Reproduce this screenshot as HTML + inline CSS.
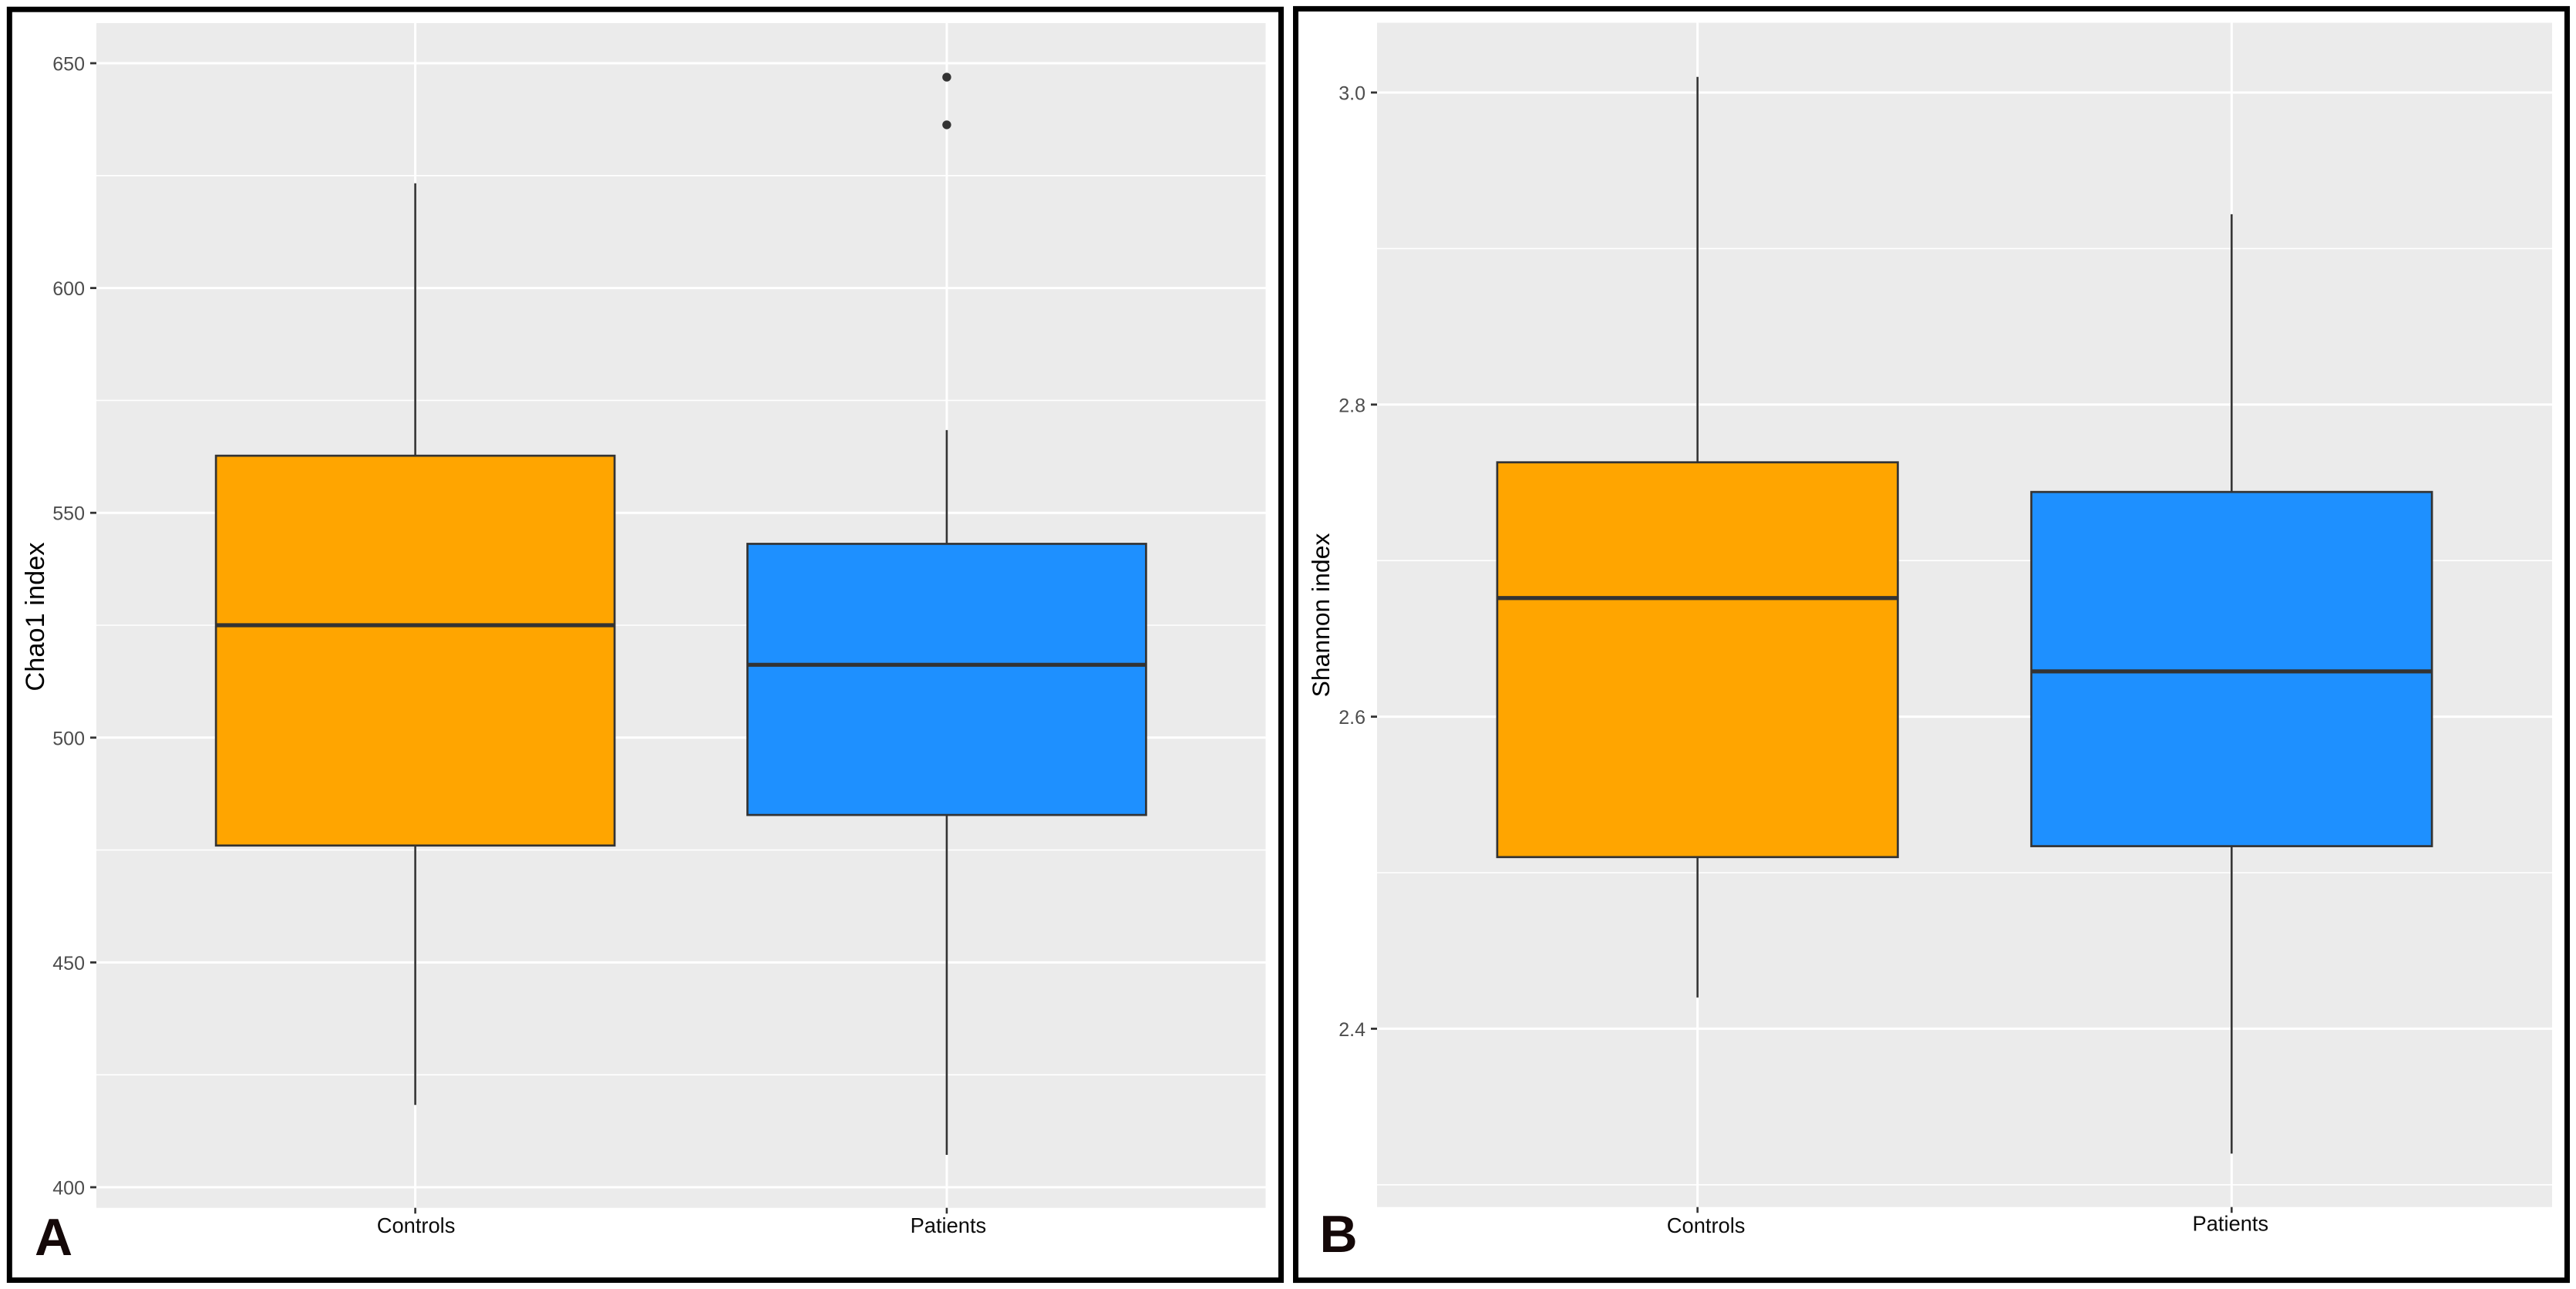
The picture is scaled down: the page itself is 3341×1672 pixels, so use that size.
<!DOCTYPE html>
<html lang="en">
<head>
<meta charset="utf-8">
<title>Chao1 and Shannon index box plots</title>
<style>
html,body{margin:0;padding:0;background:#fff;width:3341px;height:1672px;overflow:hidden}
svg{display:block}
text{font-family:"Liberation Sans",Arial,sans-serif}
</style>
</head>
<body>
<svg id="figure" xmlns="http://www.w3.org/2000/svg" width="3341" height="1672" viewBox="0 0 3341 1672">
  <rect x="0" y="0" width="3341" height="1672" fill="#fff"/>
  <g id="panelA"></g>
  <g id="panelB"></g>
  <rect x="12.3" y="12.2" width="1649.2" height="1648.3" fill="none" stroke="#000" stroke-width="7"/>
  <rect x="1680.5" y="11.4" width="1649" height="1649.2" fill="none" stroke="#000" stroke-width="7"/>
  <text x="69.5" y="1628" text-anchor="middle" font-size="68" font-weight="700" fill="#140808">A</text>
  <text x="1736" y="1624" text-anchor="middle" font-size="68" font-weight="700" fill="#140808">B</text>
</svg>
<script>
const categories = ['Controls', 'Patients'];
const boxColors = ['#FFA500', '#1E90FF'];

const chao1WhiskerLow = [418.3, 407.2];
const chao1Q1 = [476, 482.8];
const chao1Median = [525, 516.2];
const chao1Q3 = [562.7, 543.1];
const chao1WhiskerHigh = [623.3, 568.4];
const chao1Outliers = [[], [636.3, 646.9]];
const chao1MajorTicks = [400, 450, 500, 550, 600, 650];
const chao1MinorTicks = [425, 475, 525, 575, 625];
const chao1TickLabels = ['400', '450', '500', '550', '600', '650'];

const shannonWhiskerLow = [2.42, 2.32];
const shannonQ1 = [2.51, 2.517];
const shannonMedian = [2.676, 2.629];
const shannonQ3 = [2.763, 2.744];
const shannonWhiskerHigh = [3.01, 2.922];
const shannonOutliers = [[], []];
const shannonMajorTicks = [2.4, 2.6, 2.8, 3.0];
const shannonMinorTicks = [2.3, 2.5, 2.7, 2.9];
const shannonTickLabels = ['2.4', '2.6', '2.8', '3.0'];

const NS = 'http://www.w3.org/2000/svg';

function make(parent, tag, attrs) {
  const el = document.createElementNS(NS, tag);
  Object.keys(attrs).forEach(function (k) { el.setAttribute(k, attrs[k]); });
  parent.appendChild(el);
  return el;
}

function drawPanel(g, cfg) {
  const yScale = function (v) { return cfg.y0 - (v - cfg.v0) * cfg.pxPerUnit; };
  const unit = (cfg.right - cfg.left) / 2.2;
  const xScale = function (i) { return cfg.left + (0.6 + i) * unit; };
  const boxW = unit * 0.75;

  const bg = make(g, 'rect', { x: cfg.left, y: cfg.top, width: cfg.right - cfg.left, height: cfg.bottom - cfg.top, fill: '#EBEBEB' });
  
  

  cfg.minor.forEach(function (v) {
    const y = yScale(v);
    const line = make(g, 'line', { x1: cfg.left, x2: cfg.right, y1: y, y2: y, stroke: '#fff', 'stroke-width': 1.6 });
    
    
  });

  cfg.major.forEach(function (v, i) {
    const y = yScale(v);
    const line = make(g, 'line', { x1: cfg.left, x2: cfg.right, y1: y, y2: y, stroke: '#fff', 'stroke-width': 3 });
    
    

    const tick = make(g, 'line', { x1: cfg.left - 8, x2: cfg.left, y1: y, y2: y, stroke: '#333', 'stroke-width': 2.8 });
    
    

    const label = make(g, 'text', { x: cfg.left - 15, y: y + 9.5, 'text-anchor': 'end', 'font-size': 25, fill: '#4D4D4D' });
    label.textContent = cfg.tickLabels[i];
    
    
  });

  categories.forEach(function (cat, i) {
    const x = xScale(i);

    const vgrid = make(g, 'line', { x1: x, x2: x, y1: cfg.top, y2: cfg.bottom, stroke: '#fff', 'stroke-width': 3 });
    
    

    const tick = make(g, 'line', { x1: x, x2: x, y1: cfg.bottom, y2: cfg.bottom + 7.5, stroke: '#333', 'stroke-width': 2.6 });
    
    

    const label = make(g, 'text', { x: x + cfg.labelDx[i], y: cfg.labelY[i], 'text-anchor': 'middle', 'font-size': 27.3, fill: '#0c0c0c' });
    label.textContent = cat;
    
    

    const whisker = make(g, 'line', { x1: x, x2: x, y1: yScale(cfg.whiskerHigh[i]), y2: yScale(cfg.whiskerLow[i]), stroke: '#333', 'stroke-width': 2.6 });
    
    

    const box = make(g, 'rect', { x: x - boxW / 2, y: yScale(cfg.q3[i]), width: boxW, height: yScale(cfg.q1[i]) - yScale(cfg.q3[i]), fill: boxColors[i], stroke: '#333', 'stroke-width': 2.7 });
    
    

    const median = make(g, 'line', { x1: x - boxW / 2, x2: x + boxW / 2, y1: yScale(cfg.median[i]), y2: yScale(cfg.median[i]), stroke: '#333', 'stroke-width': 5.2 });
    
    

    cfg.outliers[i].forEach(function (v) {
      const pt = make(g, 'circle', { cx: x, cy: yScale(v), r: 5.7, fill: '#333' });
      
      
    });
  });

  const title = make(g, 'text', { transform: 'translate(' + cfg.titleX + ',' + cfg.titleY + ') rotate(-90)', 'text-anchor': 'middle', 'font-size': cfg.titleSize, fill: '#000' });
  title.textContent = cfg.title;
  
  
}

drawPanel(document.getElementById('panelA'), {
  left: 125, right: 1641.5, top: 30, bottom: 1566.7,
  v0: 400, y0: 1540, pxPerUnit: 5.832,
  major: chao1MajorTicks, minor: chao1MinorTicks, tickLabels: chao1TickLabels,
  whiskerLow: chao1WhiskerLow, q1: chao1Q1, median: chao1Median, q3: chao1Q3, whiskerHigh: chao1WhiskerHigh, outliers: chao1Outliers,
  labelDx: [1, 2], labelY: [1599, 1599],
  title: 'Chao1 index', titleX: 57, titleY: 800, titleSize: 34.4
});

drawPanel(document.getElementById('panelB'), {
  left: 1786, right: 3310, top: 29.5, bottom: 1565.7,
  v0: 3, y0: 120, pxPerUnit: 2024,
  major: shannonMajorTicks, minor: shannonMinorTicks, tickLabels: shannonTickLabels,
  whiskerLow: shannonWhiskerLow, q1: shannonQ1, median: shannonMedian, q3: shannonQ3, whiskerHigh: shannonWhiskerHigh, outliers: shannonOutliers,
  labelDx: [11, -1.5], labelY: [1599, 1596.5],
  title: 'Shannon index', titleX: 1724, titleY: 798, titleSize: 31.9
});
</script>
</body>
</html>
